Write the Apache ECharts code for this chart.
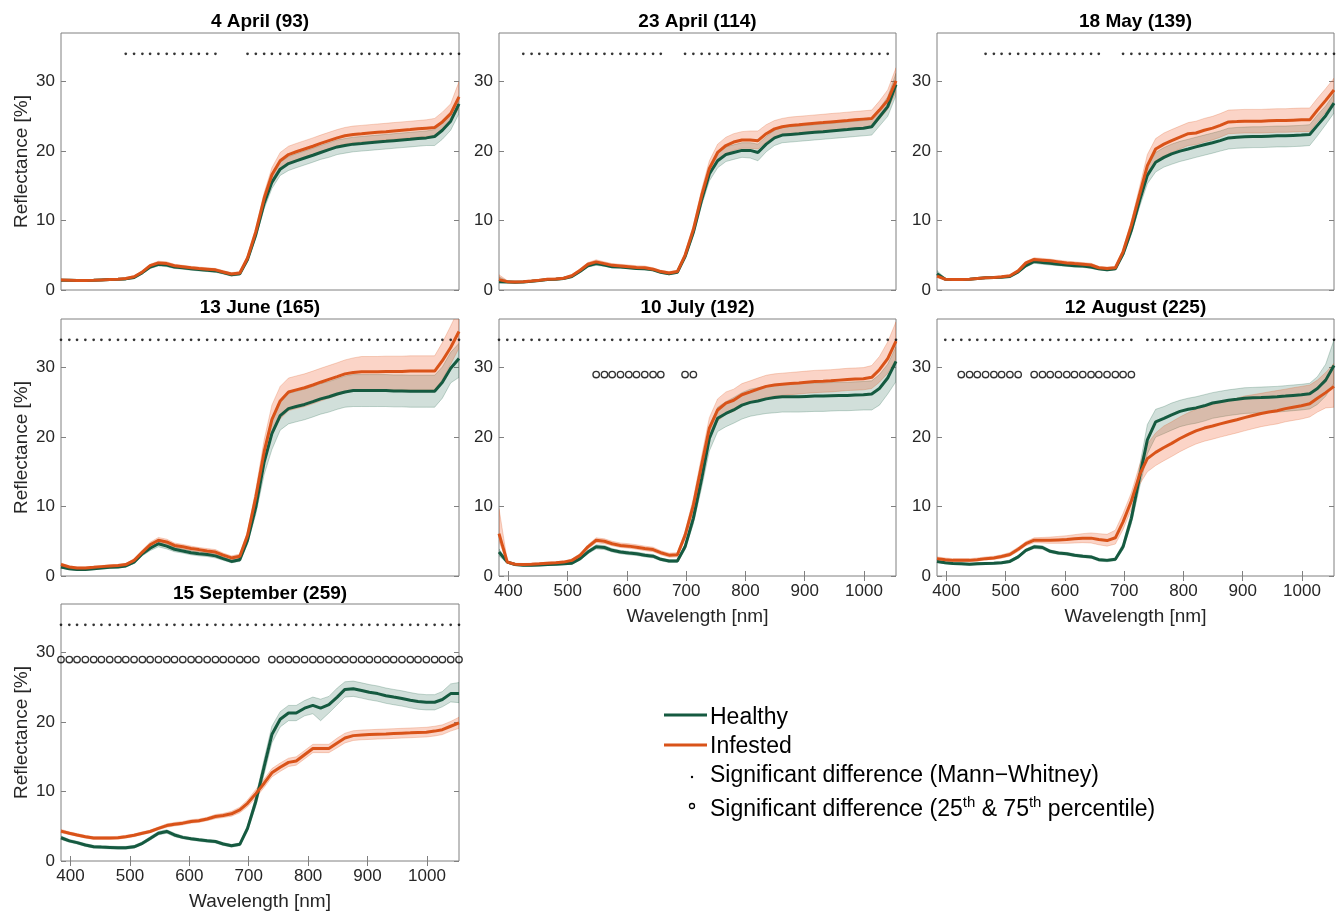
<!DOCTYPE html>
<html>
<head>
<meta charset="utf-8">
<script src="https://cdn.jsdelivr.net/npm/echarts@6/dist/echarts.min.js"></script>
<style>
html,body{margin:0;padding:0;background:#fff;}
#chart{width:1341px;height:915px;}
</style>
</head>
<body>
<div id="chart"></div>
<script>
// ---------------- DATA ----------------
const wavelengths = [384,398,411,425,439,452,466,480,493,507,
  521,534,548,562,575,589,603,616,630,644,
  657,671,685,698,712,726,739,753,767,780,
  794,808,821,835,849,862,876,890,903,917,
  931,944,958,972,985,999,1013,1026,1040,1054];
const xTicks = [400,500,600,700,800,900,1000];
const yTicks = [0,10,20,30];
const panelTitles = ['4 April (93)','23 April (114)','18 May (139)','13 June (165)','10 July (192)','12 August (225)','15 September (259)'];
const seriesNames = ['Healthy','Infested'];

// 4 April
const p1H = [1.4,1.4,1.35,1.35,1.4,1.45,1.5,1.55,1.6,1.8,
 2.5,3.3,3.7,3.6,3.3,3.2,3.05,2.95,2.85,2.75,
 2.5,2.2,2.35,4.4,8.0,12.5,15.5,17.4,18.2,18.6,
 19.0,19.4,19.8,20.2,20.6,20.8,21.0,21.1,21.2,21.3,
 21.4,21.5,21.6,21.7,21.8,21.9,22.1,23.0,24.3,26.8];
const p1Hlo = [1.3,1.3,1.25,1.25,1.3,1.35,1.4,1.45,1.5,1.65,
 2.3,3.1,3.45,3.35,3.1,3.0,2.85,2.75,2.65,2.55,
 2.3,2.0,2.15,4.1,7.5,11.7,14.6,16.5,17.2,17.6,
 18.0,18.4,18.8,19.1,19.5,19.7,19.9,20.0,20.1,20.2,
 20.3,20.4,20.5,20.6,20.7,20.8,20.8,21.7,23.0,25.4];
const p1Hhi = [1.5,1.5,1.45,1.45,1.5,1.55,1.6,1.65,1.7,1.95,
 2.7,3.5,3.95,3.85,3.5,3.4,3.25,3.15,3.05,2.95,
 2.7,2.4,2.55,4.8,8.6,13.3,16.4,18.4,19.2,19.6,
 20.0,20.4,20.8,21.2,21.6,21.8,22.0,22.1,22.2,22.3,
 22.4,22.5,22.6,22.7,22.8,22.9,23.1,24.1,25.5,28.0];
const p1I = [1.45,1.4,1.35,1.35,1.4,1.45,1.5,1.55,1.65,1.9,
 2.6,3.5,3.9,3.8,3.5,3.35,3.2,3.1,3.0,2.9,
 2.6,2.3,2.45,4.6,8.4,13.2,16.6,18.6,19.5,19.9,
 20.3,20.7,21.1,21.5,21.9,22.2,22.4,22.5,22.6,22.7,
 22.8,22.9,23.0,23.1,23.2,23.3,23.4,24.2,25.4,27.8];
const p1Ilo = [1.35,1.3,1.25,1.25,1.3,1.35,1.4,1.45,1.5,1.75,
 2.4,3.3,3.65,3.55,3.3,3.15,3.0,2.9,2.8,2.7,
 2.4,2.1,2.25,4.2,7.8,12.4,15.6,17.4,18.3,18.7,
 19.1,19.5,19.9,20.3,20.7,21.0,21.2,21.3,21.4,21.5,
 21.6,21.7,21.8,21.9,22.0,22.1,22.2,23.0,24.2,26.2];
const p1Ihi = [1.6,1.5,1.45,1.45,1.5,1.55,1.6,1.65,1.8,2.05,
 2.8,3.7,4.15,4.05,3.7,3.55,3.4,3.3,3.2,3.1,
 2.8,2.5,2.65,5.0,9.0,14.0,17.6,19.8,20.7,21.1,
 21.5,21.9,22.3,22.7,23.1,23.4,23.6,23.7,23.8,23.9,
 24.0,24.1,24.2,24.3,24.4,24.5,24.7,25.6,26.8,30.0];

// 23 April
const p2H = [1.2,1.15,1.1,1.15,1.25,1.35,1.5,1.55,1.65,1.95,
 2.7,3.5,3.8,3.6,3.35,3.3,3.2,3.1,3.05,2.9,
 2.55,2.35,2.55,4.8,8.3,13.0,16.7,18.6,19.5,19.8,
 20.1,20.1,19.8,21.0,21.9,22.3,22.4,22.5,22.6,22.7,
 22.8,22.9,23.0,23.1,23.2,23.3,23.5,24.9,26.4,29.6];
const p2Hlo = [1.05,1.05,1.0,1.05,1.15,1.25,1.4,1.45,1.55,1.8,
 2.5,3.3,3.55,3.4,3.2,3.15,3.05,2.95,2.9,2.75,
 2.4,2.2,2.4,4.5,7.8,12.2,15.7,17.6,18.5,18.8,
 19.1,19.0,18.6,19.9,20.8,21.2,21.3,21.4,21.5,21.6,
 21.7,21.8,21.9,22.0,22.1,22.2,22.3,23.6,25.0,28.0];
const p2Hhi = [1.9,1.3,1.2,1.25,1.35,1.45,1.6,1.65,1.75,2.1,
 2.9,3.7,4.05,3.8,3.5,3.45,3.35,3.25,3.2,3.05,
 2.7,2.5,2.7,5.1,8.8,13.8,17.7,19.7,20.6,20.9,
 21.2,21.2,21.0,22.1,23.0,23.4,23.5,23.6,23.7,23.8,
 23.9,24.0,24.1,24.2,24.3,24.4,24.6,26.1,27.8,31.2];
const p2I = [1.5,1.2,1.15,1.2,1.3,1.4,1.55,1.6,1.7,2.05,
 2.85,3.7,4.05,3.8,3.55,3.45,3.35,3.25,3.2,3.0,
 2.65,2.45,2.65,5.0,8.7,13.6,17.5,19.8,20.8,21.3,
 21.6,21.6,21.5,22.5,23.2,23.5,23.7,23.8,23.9,24.0,
 24.1,24.2,24.3,24.4,24.5,24.6,24.7,25.9,27.3,30.1];
const p2Ilo = [1.35,1.1,1.05,1.1,1.2,1.3,1.45,1.5,1.6,1.9,
 2.7,3.5,3.8,3.6,3.35,3.25,3.15,3.05,3.0,2.85,
 2.5,2.3,2.5,4.7,8.2,12.8,16.5,18.6,19.6,20.1,
 20.4,20.4,20.3,21.3,22.0,22.3,22.5,22.6,22.7,22.8,
 22.9,23.0,23.1,23.2,23.3,23.4,23.5,24.6,26.0,28.5];
const p2Ihi = [2.2,1.35,1.3,1.35,1.45,1.55,1.7,1.75,1.85,2.25,
 3.05,3.95,4.35,4.05,3.8,3.7,3.6,3.5,3.45,3.2,
 2.85,2.65,2.85,5.4,9.3,14.5,18.6,21.0,22.0,22.5,
 22.8,22.9,22.9,23.8,24.4,24.7,24.9,25.0,25.1,25.2,
 25.3,25.4,25.5,25.6,25.7,25.8,25.9,27.2,28.8,32.0];

// 18 May
const p3H = [2.35,1.55,1.5,1.5,1.55,1.65,1.75,1.8,1.85,1.95,
 2.6,3.5,4.1,3.95,3.85,3.7,3.6,3.5,3.45,3.3,
 3.05,2.9,3.05,5.2,8.6,12.9,16.5,18.4,19.1,19.6,
 20.0,20.3,20.6,20.9,21.2,21.5,21.9,22.0,22.05,22.1,
 22.1,22.15,22.2,22.2,22.25,22.3,22.4,23.7,25.1,26.9];
const p3Hlo = [2.1,1.45,1.4,1.4,1.45,1.55,1.65,1.7,1.75,1.85,
 2.45,3.3,3.85,3.7,3.6,3.5,3.4,3.3,3.25,3.1,
 2.9,2.75,2.9,4.8,8.0,12.0,15.3,17.0,17.7,18.1,
 18.5,18.8,19.1,19.4,19.7,20.0,20.3,20.4,20.45,20.5,
 20.5,20.55,20.6,20.6,20.65,20.7,20.8,22.2,23.8,25.5];
const p3Hhi = [2.8,1.65,1.6,1.6,1.65,1.75,1.85,1.9,1.95,2.05,
 2.75,3.7,4.3,4.15,4.05,3.9,3.8,3.7,3.65,3.5,
 3.2,3.05,3.2,5.6,9.2,13.8,17.7,19.8,20.5,21.0,
 21.4,21.7,22.0,22.3,22.6,22.9,23.3,23.4,23.45,23.5,
 23.5,23.55,23.6,23.6,23.65,23.7,23.8,25.2,26.5,28.2];
const p3I = [2.0,1.55,1.5,1.5,1.55,1.65,1.75,1.8,1.9,2.05,
 2.75,3.9,4.4,4.3,4.2,4.05,3.9,3.8,3.7,3.6,
 3.2,3.1,3.2,5.5,9.3,13.8,17.9,20.3,21.0,21.5,
 22.0,22.5,22.6,23.0,23.3,23.7,24.2,24.25,24.3,24.3,
 24.3,24.35,24.4,24.4,24.45,24.5,24.5,25.9,27.3,28.8];
const p3Ilo = [1.9,1.45,1.4,1.4,1.45,1.55,1.65,1.7,1.8,1.95,
 2.6,3.7,4.15,4.05,3.95,3.8,3.7,3.6,3.5,3.4,
 3.0,2.9,3.0,5.1,8.6,12.7,16.5,18.6,19.3,19.8,
 20.3,20.8,20.9,21.3,21.6,22.0,22.5,22.55,22.6,22.6,
 22.6,22.65,22.7,22.7,22.75,22.8,22.8,24.2,25.6,27.2];
const p3Ihi = [2.15,1.65,1.6,1.6,1.65,1.75,1.85,1.9,2.0,2.15,
 2.9,4.1,4.65,4.55,4.45,4.3,4.15,4.05,3.95,3.85,
 3.4,3.3,3.4,5.9,10.0,14.9,19.5,21.8,22.6,23.1,
 23.6,24.1,24.3,24.7,25.0,25.4,25.9,25.95,26.0,26.0,
 26.0,26.05,26.1,26.1,26.15,26.2,26.2,27.6,29.0,30.5];

// 13 June
const p4H = [1.3,1.05,0.95,0.95,1.05,1.15,1.25,1.3,1.45,2.0,
 3.2,4.0,4.65,4.3,3.85,3.6,3.35,3.2,3.1,2.9,
 2.5,2.1,2.35,5.15,9.95,16.4,20.5,23.1,24.1,24.4,
 24.7,25.1,25.5,25.8,26.2,26.5,26.7,26.7,26.7,26.7,
 26.7,26.65,26.65,26.6,26.6,26.6,26.6,27.9,29.9,31.3];
const p4Hlo = [1.15,0.9,0.8,0.8,0.9,1.0,1.1,1.15,1.3,1.8,
 2.9,3.65,4.2,3.9,3.5,3.3,3.05,2.9,2.8,2.6,
 2.25,1.9,2.1,4.6,8.9,14.6,18.2,21.0,21.9,22.2,
 22.5,22.9,23.3,23.6,24.0,24.3,24.4,24.4,24.4,24.4,
 24.4,24.35,24.35,24.3,24.3,24.3,24.3,25.6,27.8,28.6];
const p4Hhi = [1.45,1.2,1.1,1.1,1.2,1.3,1.4,1.45,1.6,2.2,
 3.5,4.35,5.1,4.7,4.2,3.9,3.65,3.5,3.4,3.2,
 2.75,2.3,2.6,5.7,11.0,18.2,22.8,25.2,26.3,26.6,
 26.9,27.3,27.7,28.0,28.4,28.8,29.0,29.0,29.0,29.0,
 29.0,28.95,28.95,28.9,28.9,28.9,28.9,30.1,32.2,33.5];
const p4I = [1.65,1.3,1.15,1.15,1.25,1.35,1.45,1.5,1.65,2.25,
 3.45,4.5,5.15,4.9,4.4,4.2,3.95,3.8,3.6,3.45,
 3.0,2.6,2.85,5.85,11.4,17.9,22.5,25.2,26.5,26.8,
 27.1,27.5,27.9,28.3,28.7,29.1,29.3,29.4,29.4,29.4,
 29.45,29.45,29.45,29.5,29.5,29.5,29.5,31.0,32.9,35.2];
const p4Ilo = [1.5,1.15,1.0,1.0,1.1,1.2,1.3,1.35,1.5,2.05,
 3.15,4.15,4.75,4.5,4.05,3.85,3.6,3.45,3.25,3.1,
 2.7,2.3,2.55,5.3,10.3,16.3,20.3,22.6,23.8,24.1,
 24.4,24.8,25.2,25.6,26.0,26.4,26.6,26.7,26.7,26.7,
 26.75,26.75,26.75,26.8,26.8,26.8,26.8,28.3,30.5,32.8];
const p4Ihi = [1.85,1.45,1.3,1.3,1.4,1.5,1.6,1.65,1.8,2.45,
 3.75,4.85,5.55,5.3,4.75,4.55,4.3,4.1,3.95,3.8,
 3.3,2.9,3.15,6.4,12.5,19.6,24.6,27.3,28.5,28.8,
 29.1,29.5,29.9,30.3,30.7,31.1,31.4,31.6,31.6,31.6,
 31.65,31.65,31.65,31.7,31.7,31.7,31.7,33.6,36.0,38.5];

// 10 July
const p5H = [3.45,2.0,1.65,1.55,1.55,1.6,1.65,1.7,1.75,1.85,
 2.5,3.45,4.2,4.1,3.7,3.45,3.3,3.2,3.0,2.85,
 2.4,2.15,2.15,4.2,8.3,14.0,19.8,22.7,23.4,23.9,
 24.6,25.0,25.2,25.5,25.7,25.8,25.8,25.8,25.85,25.9,
 25.9,25.95,26.0,26.0,26.05,26.1,26.2,27.0,28.5,30.9];
const p5Hlo = [2.9,1.85,1.5,1.4,1.4,1.45,1.5,1.55,1.6,1.7,
 2.3,3.2,3.9,3.8,3.45,3.2,3.05,2.95,2.75,2.6,
 2.2,1.95,1.95,3.8,7.5,12.7,18.0,20.8,21.5,22.0,
 22.6,23.0,23.2,23.4,23.5,23.6,23.6,23.6,23.65,23.7,
 23.7,23.75,23.8,23.8,23.85,23.9,23.9,24.6,26.2,28.0];
const p5Hhi = [3.9,2.15,1.8,1.7,1.7,1.75,1.8,1.85,1.9,2.0,
 2.7,3.7,4.5,4.4,3.95,3.7,3.55,3.45,3.25,3.1,
 2.6,2.35,2.35,4.6,9.1,15.3,21.4,24.3,25.1,25.7,
 26.4,26.9,27.1,27.4,27.6,27.7,27.7,27.7,27.75,27.8,
 27.8,27.85,27.9,27.9,27.95,28.0,28.1,29.0,30.5,33.0];
const p5I = [6.1,2.0,1.7,1.65,1.7,1.75,1.85,1.9,2.0,2.25,
 3.0,4.2,5.15,5.0,4.65,4.4,4.3,4.15,3.95,3.8,
 3.35,3.0,3.05,5.85,10.2,16.0,21.3,23.9,24.9,25.3,
 26.1,26.5,26.9,27.3,27.5,27.6,27.7,27.8,27.9,28.0,
 28.05,28.1,28.2,28.3,28.35,28.4,28.6,29.7,31.3,33.8];
const p5Ilo = [5.0,1.85,1.55,1.5,1.55,1.6,1.7,1.75,1.85,2.05,
 2.75,3.9,4.8,4.65,4.35,4.1,4.0,3.85,3.65,3.5,
 3.05,2.7,2.75,5.3,9.3,14.7,19.8,22.3,23.3,23.7,
 24.5,24.9,25.3,25.7,25.9,26.0,26.1,26.2,26.3,26.4,
 26.45,26.5,26.6,26.7,26.75,26.8,27.0,27.9,29.2,31.2];
const p5Ihi = [9.7,2.2,1.85,1.8,1.85,1.9,2.0,2.05,2.15,2.45,
 3.25,4.5,5.5,5.35,5.0,4.75,4.65,4.5,4.3,4.15,
 3.65,3.3,3.35,6.4,11.2,17.3,22.8,25.5,26.5,26.9,
 27.7,28.1,28.5,28.9,29.1,29.2,29.3,29.4,29.5,29.6,
 29.65,29.7,29.8,29.9,29.95,30.0,30.3,31.6,33.7,36.6];

// 12 August
const p6H = [2.1,1.9,1.8,1.75,1.7,1.75,1.8,1.85,1.9,2.1,
 2.75,3.7,4.2,4.1,3.55,3.3,3.2,3.0,2.85,2.75,
 2.35,2.25,2.4,4.2,8.3,14.3,19.6,22.2,22.7,23.2,
 23.7,24.0,24.2,24.5,24.9,25.1,25.3,25.45,25.6,25.65,
 25.7,25.75,25.8,25.9,26.0,26.1,26.25,27.0,28.2,30.3];
const p6Hlo = [1.95,1.75,1.65,1.6,1.55,1.6,1.65,1.7,1.75,1.95,
 2.55,3.5,3.95,3.85,3.35,3.1,3.0,2.8,2.65,2.55,
 2.15,2.05,2.2,3.8,7.5,12.8,17.6,20.0,20.5,21.0,
 21.5,21.8,22.0,22.3,22.7,22.9,23.1,23.25,23.4,23.45,
 23.5,23.55,23.6,23.7,23.8,23.9,24.05,24.7,25.9,27.8];
const p6Hhi = [2.25,2.05,1.95,1.9,1.85,1.9,1.95,2.0,2.05,2.3,
 2.95,3.9,4.45,4.35,3.75,3.5,3.4,3.2,3.05,2.95,
 2.55,2.45,2.6,4.7,9.2,15.8,21.8,24.0,24.4,24.9,
 25.3,25.6,25.8,26.1,26.4,26.6,26.8,26.95,27.1,27.15,
 27.2,27.25,27.3,27.4,27.5,27.6,27.75,28.7,30.5,34.0];
const p6I = [2.5,2.35,2.25,2.25,2.25,2.35,2.5,2.6,2.8,3.1,
 3.85,4.65,5.15,5.15,5.15,5.2,5.25,5.35,5.45,5.45,
 5.25,5.1,5.5,7.8,10.8,14.6,16.9,17.8,18.5,19.1,
 19.8,20.4,20.9,21.3,21.6,21.9,22.2,22.5,22.8,23.1,
 23.4,23.6,23.8,24.1,24.3,24.5,24.8,25.6,26.4,27.3];
const p6Ilo = [2.3,2.15,2.05,2.05,2.05,2.15,2.3,2.4,2.55,2.85,
 3.55,4.35,4.8,4.75,4.7,4.7,4.7,4.75,4.8,4.75,
 4.5,4.3,4.6,6.7,9.6,13.2,15.0,15.9,16.6,17.2,
 17.9,18.5,19.0,19.4,19.7,20.0,20.3,20.6,20.9,21.2,
 21.5,21.7,21.9,22.2,22.4,22.6,22.9,23.6,24.2,24.3];
const p6Ihi = [2.75,2.6,2.5,2.5,2.5,2.6,2.75,2.85,3.05,3.4,
 4.15,4.95,5.5,5.55,5.6,5.7,5.8,5.95,6.1,6.2,
 6.1,6.0,6.6,9.0,12.0,16.0,19.0,20.6,21.6,22.2,
 22.9,23.5,24.0,24.4,24.7,25.0,25.3,25.6,25.9,26.1,
 26.3,26.5,26.7,26.9,27.1,27.3,27.5,28.2,29.3,30.6];

// 15 September
const p7H = [3.35,2.9,2.65,2.3,2.05,2.0,1.95,1.9,1.9,2.05,
 2.55,3.25,4.0,4.25,3.75,3.4,3.2,3.05,2.9,2.8,
 2.45,2.2,2.4,4.7,8.6,13.6,18.2,20.4,21.3,21.3,
 22.0,22.4,22.0,22.5,23.6,24.7,24.8,24.55,24.3,24.1,
 23.8,23.6,23.4,23.15,22.95,22.85,22.85,23.25,24.1,24.1];
const p7Hlo = [3.1,2.7,2.45,2.1,1.85,1.8,1.75,1.7,1.7,1.85,
 2.35,3.0,3.75,4.0,3.5,3.2,3.0,2.85,2.7,2.6,
 2.25,2.0,2.2,4.3,7.9,12.5,17.0,19.3,20.2,20.2,
 20.9,21.2,20.2,21.3,22.5,23.6,23.7,23.45,23.2,23.0,
 22.7,22.5,22.3,22.05,21.85,21.75,21.75,22.2,22.9,22.8];
const p7Hhi = [3.6,3.1,2.85,2.5,2.25,2.2,2.15,2.1,2.1,2.25,
 2.75,3.5,4.25,4.5,4.0,3.6,3.4,3.25,3.1,3.0,
 2.65,2.4,2.6,5.1,9.3,14.7,19.4,21.5,22.4,22.4,
 23.1,23.6,23.3,23.7,24.9,25.8,25.9,25.65,25.4,25.2,
 24.9,24.7,24.5,24.25,24.05,23.95,23.95,24.4,25.5,25.7];
const p7I = [4.3,4.0,3.75,3.5,3.3,3.3,3.3,3.35,3.5,3.7,
 4.0,4.25,4.7,5.1,5.3,5.45,5.7,5.8,6.05,6.4,
 6.55,6.8,7.35,8.3,9.7,11.2,12.7,13.5,14.2,14.4,
 15.3,16.2,16.2,16.2,17.0,17.7,18.05,18.15,18.2,18.25,
 18.3,18.35,18.4,18.45,18.5,18.55,18.7,18.9,19.4,19.9];
const p7Ilo = [4.05,3.8,3.55,3.3,3.1,3.1,3.1,3.15,3.3,3.5,
 3.8,4.05,4.5,4.85,5.05,5.2,5.45,5.55,5.8,6.1,
 6.25,6.45,6.95,7.8,9.1,10.6,12.1,12.9,13.6,13.8,
 14.7,15.6,15.6,15.6,16.3,17.0,17.35,17.45,17.5,17.55,
 17.6,17.65,17.7,17.75,17.8,17.85,18.0,18.2,18.7,19.1];
const p7Ihi = [4.55,4.2,3.95,3.7,3.5,3.5,3.5,3.55,3.7,3.9,
 4.2,4.45,4.9,5.35,5.55,5.7,5.95,6.05,6.3,6.7,
 6.85,7.15,7.75,8.8,10.3,11.8,13.3,14.1,14.8,15.0,
 15.9,16.8,16.8,16.8,17.7,18.4,18.75,18.85,18.9,18.95,
 19.0,19.05,19.1,19.15,19.2,19.25,19.4,19.6,20.1,20.7];

// Significance flags per band (1 = significant)
const p1MannWhitney = [0,0,0,0,0,0,0,0,1,1, 1,1,1,1,1,1,1,1,1,1, 0,0,0,1,1,1,1,1,1,1, 1,1,1,1,1,1,1,1,1,1, 1,1,1,1,1,1,1,1,1,1];
const p2MannWhitney = [0,0,0,1,1,1,1,1,1,1, 1,1,1,1,1,1,1,1,1,1, 1,0,0,1,1,1,1,1,1,1, 1,1,1,1,1,1,1,1,1,1, 1,1,1,1,1,1,1,1,1,0];
const p3MannWhitney = [0,0,0,0,0,0,1,1,1,1, 1,1,1,1,1,1,1,1,1,1, 1,0,0,1,1,1,1,1,1,1, 1,1,1,1,1,1,1,1,1,1, 1,1,1,1,1,1,1,1,1,1];
const p4MannWhitney = [1,1,1,1,1,1,1,1,1,1, 1,1,1,1,1,1,1,1,1,1, 1,1,1,1,1,1,1,1,1,1, 1,1,1,1,1,1,1,1,1,1, 1,1,1,1,1,1,1,1,1,1];
const p5MannWhitney = [1,1,1,1,1,1,1,1,1,1, 1,1,1,1,1,1,1,1,1,1, 1,1,1,1,1,1,1,1,1,1, 1,1,1,1,1,1,1,1,1,1, 1,1,1,1,1,1,1,1,1,1];
const p6MannWhitney = [0,1,1,1,1,1,1,1,1,1, 1,1,1,1,1,1,1,1,1,1, 1,1,1,1,1,0,1,1,1,1, 1,1,1,1,1,1,1,1,1,1, 1,1,1,1,1,1,1,1,1,1];
const p7MannWhitney = [1,1,1,1,1,1,1,1,1,1, 1,1,1,1,1,1,1,1,1,1, 1,1,1,1,1,1,1,1,1,1, 1,1,1,1,1,1,1,1,1,1, 1,1,1,1,1,1,1,1,1,1];

const noPercentile = [0,0,0,0,0,0,0,0,0,0, 0,0,0,0,0,0,0,0,0,0, 0,0,0,0,0,0,0,0,0,0, 0,0,0,0,0,0,0,0,0,0, 0,0,0,0,0,0,0,0,0,0];
const p5Percentile = [0,0,0,0,0,0,0,0,0,0, 0,0,1,1,1,1,1,1,1,1, 1,0,0,1,1,0,0,0,0,0, 0,0,0,0,0,0,0,0,0,0, 0,0,0,0,0,0,0,0,0,0];
const p6Percentile = [0,0,0,1,1,1,1,1,1,1, 1,0,1,1,1,1,1,1,1,1, 1,1,1,1,1,0,0,0,0,0, 0,0,0,0,0,0,0,0,0,0, 0,0,0,0,0,0,0,0,0,0];
const p7Percentile = [1,1,1,1,1,1,1,1,1,1, 1,1,1,1,1,1,1,1,1,1, 1,1,1,1,1,0,1,1,1,1, 1,1,1,1,1,1,1,1,1,1, 1,1,1,1,1,1,1,1,1,1];

const mannWhitneyLevel = 34;  // y-level of the Mann-Whitney markers
const percentileLevel = 29;   // y-level of the percentile markers

// ---------------- STYLE / LAYOUT ----------------
const FONT = '"Liberation Sans", Arial, Helvetica, sans-serif';
const GREEN = '#155a40', ORANGE = '#d95319';
const GREEN_BAND = 'rgba(63,123,99,0.24)', ORANGE_BAND = 'rgba(239,75,19,0.24)';
const GREEN_EDGE = 'rgba(21,90,64,0.3)', ORANGE_EDGE = 'rgba(217,83,25,0.3)';
const AXIS_GREY = '#808080', LABEL_GREY = '#262626';
const colLeft = [61, 499, 937], colWidth = [398, 397, 397];
const rowTop = [33, 319, 604], rowHeight = 257;
const layout = [
  {c:0, r:0, xl:false, yn:true},
  {c:1, r:0, xl:false, yn:false},
  {c:2, r:0, xl:false, yn:false},
  {c:0, r:1, xl:false, yn:true},
  {c:1, r:1, xl:true,  yn:false},
  {c:2, r:1, xl:true,  yn:false},
  {c:0, r:2, xl:true,  yn:true}
];
const titleCenterY = [21.5, 308, 593.5];

const panels = [
  {H:p1H,Hlo:p1Hlo,Hhi:p1Hhi,I:p1I,Ilo:p1Ilo,Ihi:p1Ihi,mw:p1MannWhitney,pc:noPercentile},
  {H:p2H,Hlo:p2Hlo,Hhi:p2Hhi,I:p2I,Ilo:p2Ilo,Ihi:p2Ihi,mw:p2MannWhitney,pc:noPercentile},
  {H:p3H,Hlo:p3Hlo,Hhi:p3Hhi,I:p3I,Ilo:p3Ilo,Ihi:p3Ihi,mw:p3MannWhitney,pc:noPercentile},
  {H:p4H,Hlo:p4Hlo,Hhi:p4Hhi,I:p4I,Ilo:p4Ilo,Ihi:p4Ihi,mw:p4MannWhitney,pc:noPercentile},
  {H:p5H,Hlo:p5Hlo,Hhi:p5Hhi,I:p5I,Ilo:p5Ilo,Ihi:p5Ihi,mw:p5MannWhitney,pc:p5Percentile},
  {H:p6H,Hlo:p6Hlo,Hhi:p6Hhi,I:p6I,Ilo:p6Ilo,Ihi:p6Ihi,mw:p6MannWhitney,pc:p6Percentile},
  {H:p7H,Hlo:p7Hlo,Hhi:p7Hhi,I:p7I,Ilo:p7Ilo,Ihi:p7Ihi,mw:p7MannWhitney,pc:p7Percentile}
];

const pairs = arr => wavelengths.map((w, k) => [w, arr[k]]);
const flagged = (flags, level) => wavelengths.filter((w, k) => flags[k]).map(w => [w, level]);

// band polygon (between lower and upper percentile curves) drawn through the axes' scales
function bandRenderer(lo, hi, fill, edge) {
  return function (params, api) {
    const upper = wavelengths.map((w, k) => api.coord([w, hi[k]]));
    const lower = wavelengths.map((w, k) => api.coord([w, lo[k]])).reverse();
    const cs = params.coordSys;
    return {
      type: 'group',
      clipPath: {type: 'rect', shape: {x: cs.x, y: cs.y, width: cs.width, height: cs.height}},
      children: [{
        type: 'polygon', shape: {points: upper.concat(lower)},
        style: {fill: fill, stroke: edge, lineWidth: 0.8}
      }]
    };
  };
}

const option = {
  animation: false,
  backgroundColor: '#ffffff',
  textStyle: {fontFamily: FONT},
  grid: [], xAxis: [], yAxis: [], series: [], graphic: []
};

panels.forEach((p, i) => {
  const L = layout[i];
  option.grid.push({
    left: colLeft[L.c], top: rowTop[L.r], width: colWidth[L.c], height: rowHeight,
    show: true, borderColor: AXIS_GREY, borderWidth: 1, backgroundColor: 'rgba(0,0,0,0)',
    containLabel: false, outerBoundsMode: 'none'
  });
  const tickStyle = {color: AXIS_GREY, width: 1};
  option.xAxis.push({
    type: 'value', gridIndex: i, min: 384, max: 1054, position: 'bottom',
    axisLine: {show: false}, splitLine: {show: false},
    axisTick: {show: L.xl, inside: true, length: 5, customValues: xTicks, lineStyle: tickStyle},
    axisLabel: {show: L.xl, customValues: xTicks, fontSize: 17, color: LABEL_GREY, margin: 7, fontFamily: FONT,
      formatter: v => String(v)},
    name: L.xl ? 'Wavelength [nm]' : '', nameLocation: 'middle', nameGap: 31,
    nameTextStyle: {fontSize: 19, color: LABEL_GREY, fontFamily: FONT}
  });
  option.xAxis.push({
    type: 'value', gridIndex: i, min: 384, max: 1054, position: 'top',
    axisLine: {show: false}, splitLine: {show: false},
    axisTick: {show: L.xl, inside: true, length: 5, customValues: xTicks, lineStyle: tickStyle},
    axisLabel: {show: false}
  });
  option.yAxis.push({
    type: 'value', gridIndex: i, min: 0, max: 37, position: 'left',
    axisLine: {show: false}, splitLine: {show: false},
    axisTick: {show: true, inside: true, length: 5, customValues: yTicks, lineStyle: tickStyle},
    axisLabel: {show: true, customValues: yTicks, fontSize: 17, color: LABEL_GREY, margin: 6, fontFamily: FONT,
      formatter: v => String(v)},
    name: L.yn ? 'Reflectance [%]' : '', nameLocation: 'middle', nameGap: 30,
    nameTextStyle: {fontSize: 19, color: LABEL_GREY, fontFamily: FONT}
  });
  option.yAxis.push({
    type: 'value', gridIndex: i, min: 0, max: 37, position: 'right',
    axisLine: {show: false}, splitLine: {show: false},
    axisTick: {show: true, inside: true, length: 5, customValues: yTicks, lineStyle: tickStyle},
    axisLabel: {show: false}
  });
  const xi = 2 * i, yi = 2 * i;
  // percentile bands
  option.series.push({type: 'custom', xAxisIndex: xi, yAxisIndex: yi, silent: true, z: 1,
    renderItem: bandRenderer(p.Hlo, p.Hhi, GREEN_BAND, GREEN_EDGE), data: [[wavelengths[0], p.H[0]]]});
  option.series.push({type: 'custom', xAxisIndex: xi, yAxisIndex: yi, silent: true, z: 2,
    renderItem: bandRenderer(p.Ilo, p.Ihi, ORANGE_BAND, ORANGE_EDGE), data: [[wavelengths[0], p.I[0]]]});
  // median lines
  const base = {type: 'line', xAxisIndex: xi, yAxisIndex: yi, symbol: 'none', silent: true};
  option.series.push(Object.assign({}, base, {name: seriesNames[0], z: 3,
    data: pairs(p.H), lineStyle: {width: 3, color: GREEN}}));
  option.series.push(Object.assign({}, base, {name: seriesNames[1], z: 4,
    data: pairs(p.I), lineStyle: {width: 3, color: ORANGE}}));
  // significance markers
  option.series.push({type: 'scatter', xAxisIndex: xi, yAxisIndex: yi, silent: true, z: 5,
    symbol: 'circle', symbolSize: 2.7, itemStyle: {color: '#000'},
    data: flagged(p.mw, mannWhitneyLevel)});
  option.series.push({type: 'scatter', xAxisIndex: xi, yAxisIndex: yi, silent: true, z: 5,
    symbol: 'circle', symbolSize: 6.4, itemStyle: {color: 'rgba(0,0,0,0)', borderColor: '#000', borderWidth: 1.4},
    data: flagged(p.pc, percentileLevel)});
  // title
  option.graphic.push({type: 'text', x: colLeft[L.c] + colWidth[L.c] / 2, y: titleCenterY[L.r], silent: true,
    style: {text: panelTitles[i], fontSize: 19, fontWeight: 'bold', fontFamily: FONT, fill: '#000',
      align: 'center', verticalAlign: 'middle'}});
});

// legend
const legendTextX = 710;
const LEGEND_FS = 23;
option.graphic.push(
  {type: 'line', silent: true, shape: {x1: 664, y1: 715, x2: 707, y2: 715}, style: {stroke: GREEN, lineWidth: 3}},
  {type: 'text', silent: true, x: legendTextX, y: 718, style: {text: seriesNames[0], fontSize: LEGEND_FS, fontFamily: FONT, fill: '#000', verticalAlign: 'middle'}},
  {type: 'line', silent: true, shape: {x1: 664, y1: 745, x2: 707, y2: 745}, style: {stroke: ORANGE, lineWidth: 3}},
  {type: 'text', silent: true, x: legendTextX, y: 747, style: {text: seriesNames[1], fontSize: LEGEND_FS, fontFamily: FONT, fill: '#000', verticalAlign: 'middle'}},
  {type: 'circle', silent: true, shape: {cx: 692, cy: 777, r: 1.2}, style: {fill: '#000'}},
  {type: 'text', silent: true, x: legendTextX, y: 776, style: {text: 'Significant difference (Mann\u2212Whitney)', fontSize: LEGEND_FS, fontFamily: FONT, fill: '#000', verticalAlign: 'middle'}},
  {type: 'circle', silent: true, shape: {cx: 692, cy: 806, r: 2.5}, style: {fill: 'none', stroke: '#000', lineWidth: 1.3}},
  {type: 'text', silent: true, x: legendTextX, y: 810, style: {
    text: '{m|Significant difference (25}{s|th}{m| & 75}{s|th}{m| percentile)}',
    fontFamily: FONT, fill: '#000', verticalAlign: 'middle',
    rich: {
      m: {fontSize: LEGEND_FS, lineHeight: 30, fontFamily: FONT, fill: '#000'},
      s: {fontSize: 15, lineHeight: 14, verticalAlign: 'top', fontFamily: FONT, fill: '#000'}
    }}}
);

const chart = echarts.init(document.getElementById('chart'), null, {renderer: 'canvas', width: 1341, height: 915});
chart.setOption(option);
</script>
</body>
</html>
